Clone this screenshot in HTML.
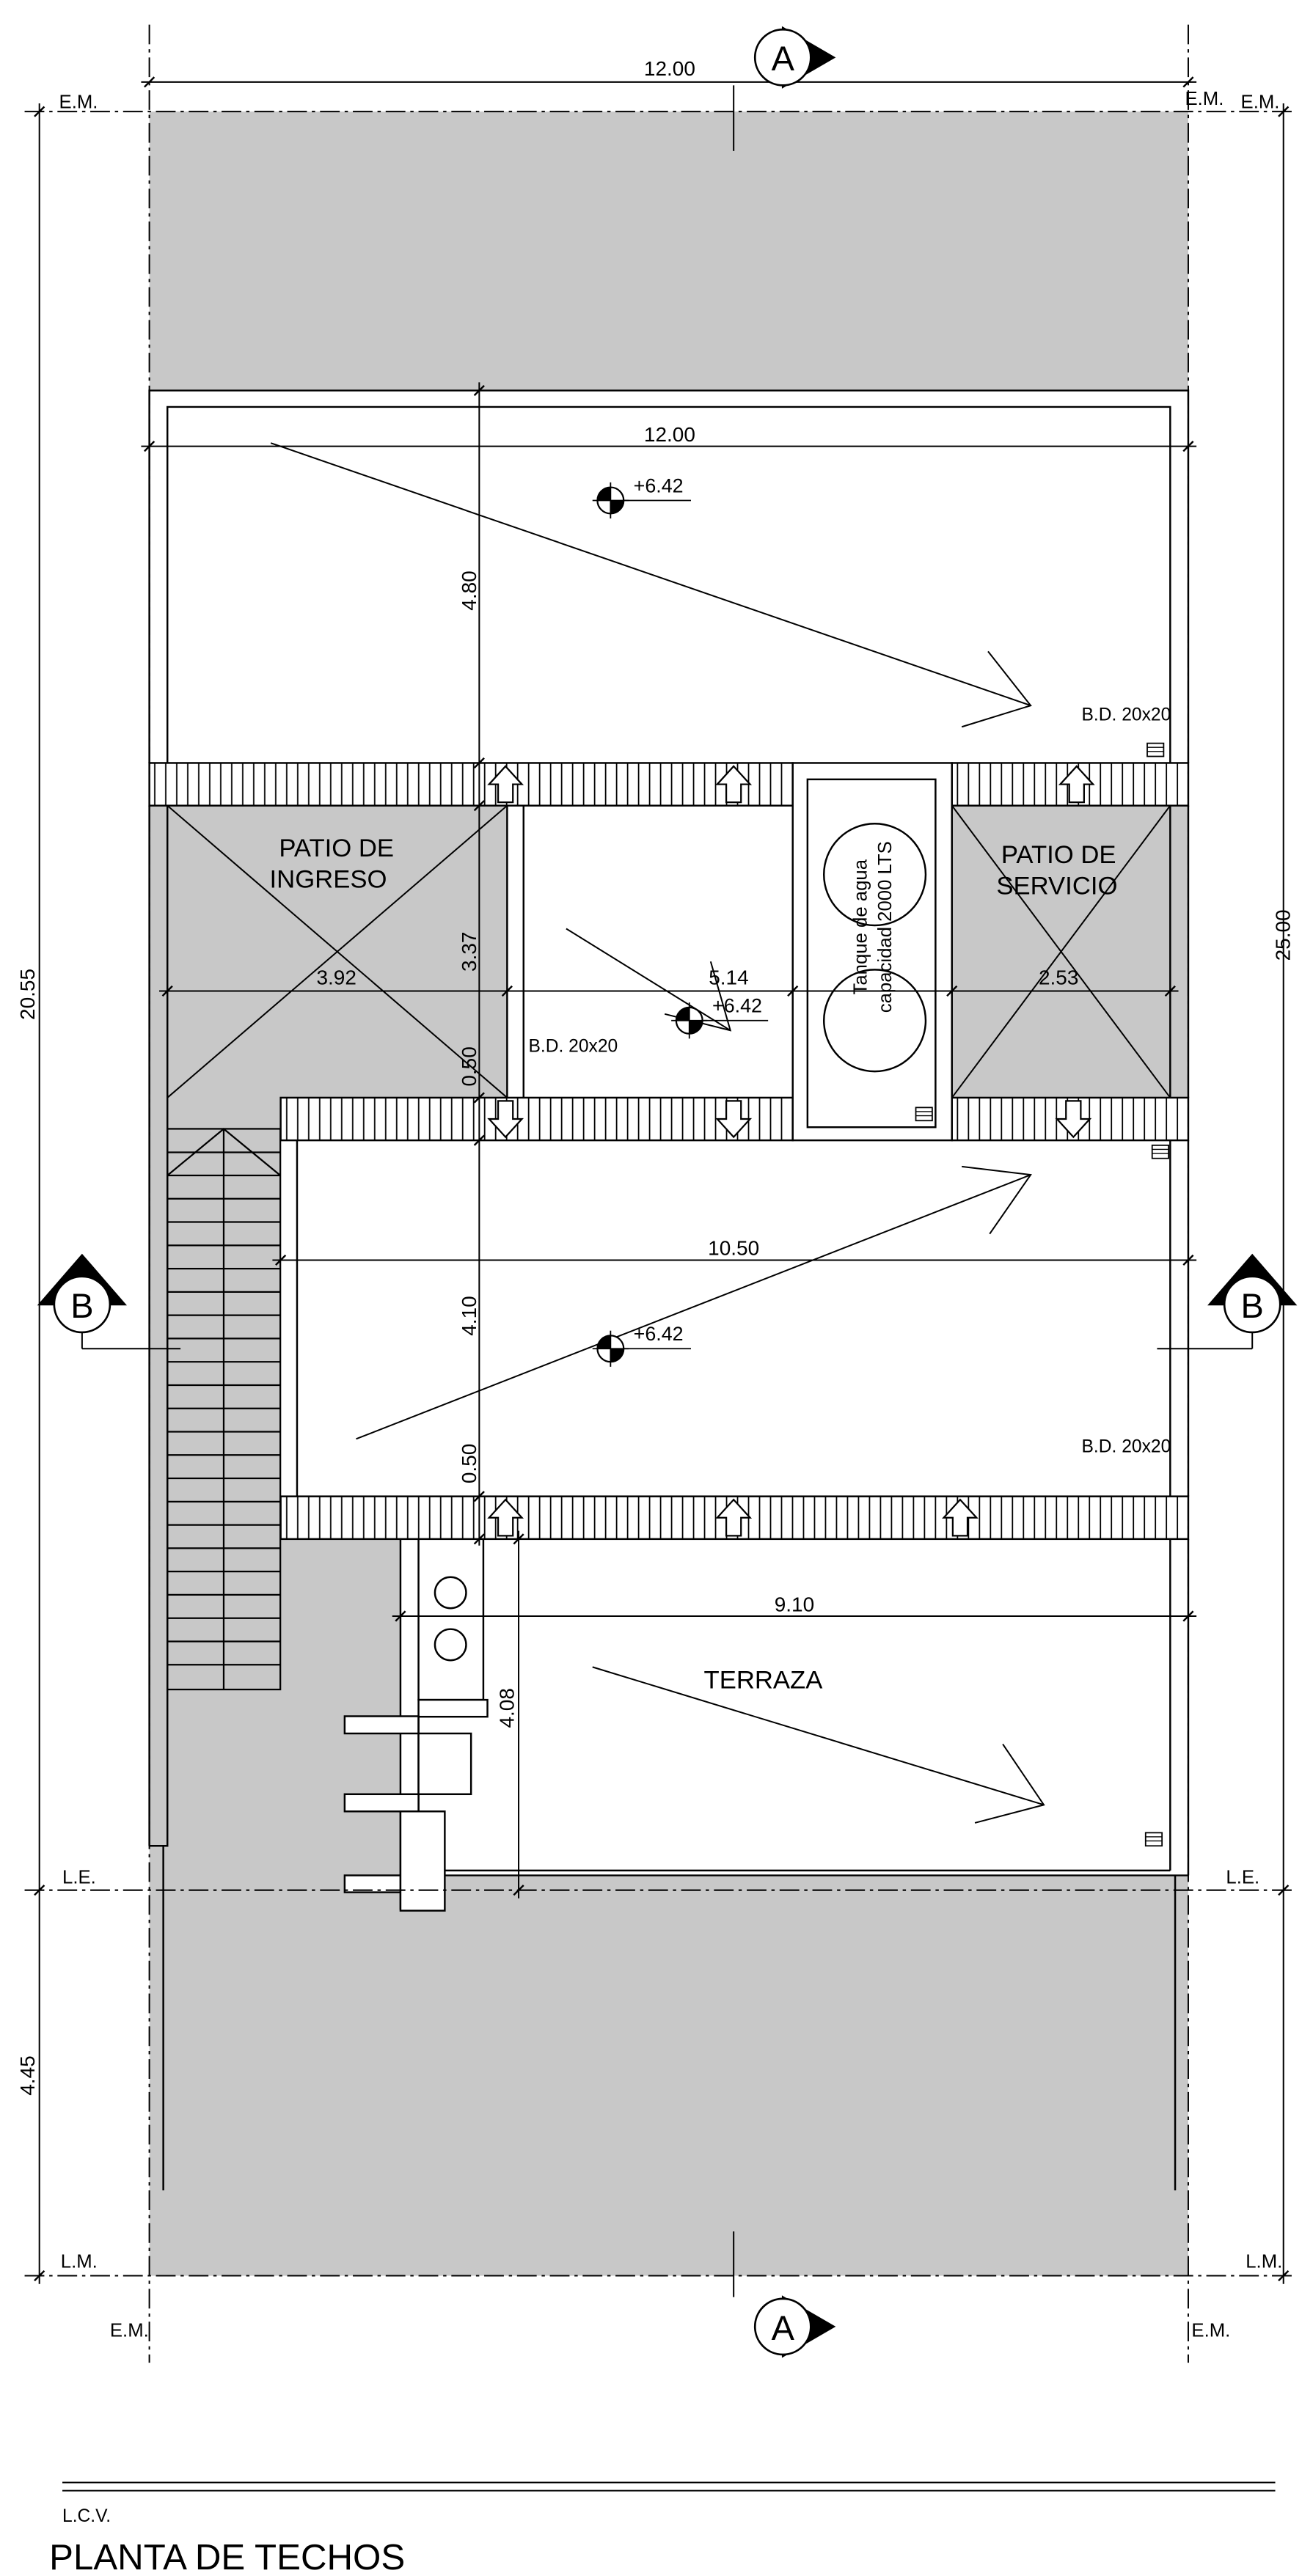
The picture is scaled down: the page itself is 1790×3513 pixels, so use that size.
<!DOCTYPE html>
<html><head><meta charset="utf-8"><style>html,body{margin:0;padding:0;background:#fff}svg{display:block}</style></head><body>
<svg width="1790" height="3513" viewBox="0 0 800 1570" preserveAspectRatio="none" xmlns="http://www.w3.org/2000/svg" font-family="'Liberation Sans Narrow','Liberation Sans',sans-serif">
<defs>
<pattern id="h" patternUnits="userSpaceOnUse" width="6.7" height="20"><rect width="6.7" height="20" fill="#fff"/><line x1="0.5" y1="0" x2="0.5" y2="20" stroke="#000" stroke-width="0.8"/></pattern>
<g id="lv"><circle r="8" fill="#fff" stroke="#000" stroke-width="1"/><path d="M0,0 L-8,0 A8,8 0 0 1 0,-8 Z M0,0 L8,0 A8,8 0 0 1 0,8 Z" fill="#000"/><line x1="-11" y1="0" x2="11" y2="0" stroke="#000" stroke-width="0.8"/><line x1="0" y1="-11" x2="0" y2="11" stroke="#000" stroke-width="0.8"/></g>
<g id="up"><path d="M0,-11 L10,0 L4.5,0 L4.5,11 L-4.5,11 L-4.5,0 L-10,0 Z" fill="#fff" stroke="#000" stroke-width="1"/></g>
<g id="dn"><path d="M0,11 L10,0 L4.5,0 L4.5,-11 L-4.5,-11 L-4.5,0 L-10,0 Z" fill="#fff" stroke="#000" stroke-width="1"/></g>
<g id="gr"><rect x="-5" y="-4" width="10" height="8" fill="#fff" stroke="#000" stroke-width="0.8"/><line x1="-5" y1="-1.5" x2="5" y2="-1.5" stroke="#000" stroke-width="0.6"/><line x1="-5" y1="1" x2="5" y2="1" stroke="#000" stroke-width="0.6"/></g>
</defs>
<rect width="800" height="1570" fill="#fff"/>
<!-- gray plot -->
<rect x="91" y="68" width="633" height="1319" fill="#c8c8c8"/>
<g fill="#fff" stroke="none">
<rect x="91" y="238" width="633" height="227"/>
<rect x="309" y="491" width="174" height="178"/>
<rect x="171" y="695" width="553" height="217"/>
<rect x="244" y="938" width="480" height="205"/>
</g>
<g fill="none" stroke="#000" stroke-width="1.1">
<!-- top roof -->
<path d="M91,465 L91,238 L724,238 L724,465"/>
<path d="M102,465 L102,248 L713,248 L713,465"/>
<!-- left strip -->
<path d="M102,491 L102,1125 L91,1125 M99.5,1125 L99.5,1335"/>
<line x1="91" y1="491" x2="91" y2="1125"/>
<!-- patio ingreso -->
<line x1="309" y1="491" x2="309" y2="669"/>
<line x1="319" y1="491" x2="319" y2="669"/>
<line x1="102" y1="491" x2="309" y2="669" stroke-width="0.9"/>
<line x1="309" y1="491" x2="102" y2="669" stroke-width="0.9"/>
<!-- patio servicio -->
<line x1="713" y1="491" x2="713" y2="669"/>
<line x1="724" y1="491" x2="724" y2="669"/>
<line x1="580" y1="491" x2="713" y2="669" stroke-width="0.9"/>
<line x1="713" y1="491" x2="580" y2="669" stroke-width="0.9"/>
<!-- middle roof -->
<line x1="181" y1="695" x2="181" y2="912"/>
<line x1="713" y1="695" x2="713" y2="912"/>
<line x1="724" y1="695" x2="724" y2="912"/>
<!-- terrace -->
<line x1="713" y1="938" x2="713" y2="1140"/>
<line x1="724" y1="938" x2="724" y2="1143"/>
<line x1="271" y1="1140" x2="713" y2="1140"/>
<line x1="271" y1="1143" x2="724" y2="1143"/>
<line x1="716" y1="1143" x2="716" y2="1335"/>
<!-- left structure -->
<line x1="244" y1="938" x2="244" y2="1164"/>
<path d="M255,938 L255,1036 L294.5,1036 L294.5,938"/>
<rect x="255" y="1036" width="42" height="10.3" fill="#fff"/>
<rect x="210" y="1046" width="45" height="10.5" fill="#fff"/>
<line x1="255" y1="1046" x2="255" y2="1104"/>
<rect x="255" y="1056.5" width="32" height="37" fill="#fff"/>
<rect x="210" y="1093.5" width="45" height="10.5" fill="#fff"/>
<rect x="210" y="1143" width="34" height="10.3" fill="#fff"/>
<rect x="244" y="1104" width="27" height="60.5" fill="#fff"/>
<circle cx="274.5" cy="970.7" r="9.5"/>
<circle cx="274.5" cy="1002.4" r="9.5"/>
</g>
<!-- stair -->
<g stroke="#000" stroke-width="1" fill="none">
<rect x="102" y="688" width="68.8" height="341.7"/>
<line x1="136.3" y1="688" x2="136.3" y2="1029.7"/>
<path d="M102,716.4 L136.3,688 L170.8,716.4"/>
<path d="M102,702.3H170.8 M102,716.4H170.8 M102,730.6H170.8 M102,744.8H170.8 M102,759H170.8 M102,773.2H170.8 M102,787.4H170.8 M102,801.6H170.8 M102,815.8H170.8 M102,830H170.8 M102,844.2H170.8 M102,858.4H170.8 M102,872.6H170.8 M102,886.8H170.8 M102,901H170.8 M102,915.2H170.8 M102,929.4H170.8 M102,943.6H170.8 M102,957.8H170.8 M102,972H170.8 M102,986.2H170.8 M102,1000.4H170.8 M102,1014.6H170.8"/>
</g>
<!-- hatched bands -->
<g fill="url(#h)" stroke="#000" stroke-width="1.1">
<rect x="91" y="465" width="392" height="26"/>
<rect x="580" y="465" width="144" height="26"/>
<rect x="171" y="669" width="312" height="26"/>
<rect x="580" y="669" width="144" height="26"/>
<rect x="171" y="912" width="553" height="26"/>
</g>
<!-- tank -->
<g fill="#fff" stroke="#000" stroke-width="1.1">
<rect x="483" y="465" width="97" height="230"/>
<rect x="492" y="475" width="78" height="212" fill="none"/>
<circle cx="533" cy="533" r="31" fill="none"/>
<circle cx="533" cy="622" r="31" fill="none"/>
</g>
<text transform="translate(528,565) rotate(-90)" font-size="11.5" text-anchor="middle">Tanque de agua</text>
<text transform="translate(543,565) rotate(-90)" font-size="11.5" text-anchor="middle">capacidad 2000 LTS</text>
<!-- arrows in bands -->
<use href="#up" x="308" y="478"/><use href="#up" x="447" y="478"/><use href="#up" x="656" y="478"/>
<use href="#dn" x="308" y="682"/><use href="#dn" x="447" y="682"/><use href="#dn" x="654" y="682"/>
<use href="#up" x="308" y="925"/><use href="#up" x="447" y="925"/><use href="#up" x="585" y="925"/>
<!-- grills -->
<use href="#gr" x="704" y="457"/><use href="#gr" x="563" y="679"/><use href="#gr" x="707" y="702"/><use href="#gr" x="703" y="1121"/>
<!-- drainage slope arrows -->
<g stroke="#000" stroke-width="0.9" fill="none">
<path d="M165,270 L628,430 M602,397 L628,430 L586,443"/>
<path d="M345,566 L445,628 M433,586 L445,628 L405,618"/>
<path d="M217,877 L628,716 M586,711 L628,716 L603,752"/>
<path d="M361,1016 L636,1100 M611,1063 L636,1100 L594,1111"/>
</g>
<!-- levels -->
<use href="#lv" x="372" y="305"/><use href="#lv" x="420" y="622"/><use href="#lv" x="372" y="822"/>
<g stroke="#000" stroke-width="0.8"><line x1="380" y1="305" x2="421" y2="305"/><line x1="428" y1="622" x2="468" y2="622"/><line x1="380" y1="822" x2="421" y2="822"/></g>
<g font-size="12"><text x="386" y="300">+6.42</text><text x="434" y="617">+6.42</text><text x="386" y="817">+6.42</text></g>
<g font-size="11"><text x="659" y="439">B.D.  20x20</text><text x="322" y="641">B.D.  20x20</text><text x="659" y="885">B.D.  20x20</text></g>
<!-- room labels -->
<g font-size="15.5">
<text x="205" y="522" text-anchor="middle">PATIO  DE</text><text x="200" y="541" text-anchor="middle">INGRESO</text>
<text x="645" y="526" text-anchor="middle">PATIO  DE</text><text x="644" y="545" text-anchor="middle">SERVICIO</text>
<text x="465" y="1029" text-anchor="middle">TERRAZA</text>
</g>
<!-- dimension lines -->
<g stroke="#000" stroke-width="0.9" fill="none">
<line x1="91" y1="15" x2="91" y2="1440" stroke-dasharray="12 3 2 3"/>
<line x1="724" y1="15" x2="724" y2="1440" stroke-dasharray="12 3 2 3"/>
<line x1="15" y1="68" x2="790" y2="68" stroke-dasharray="12 3 2 3"/>
<line x1="15" y1="1152" x2="790" y2="1152" stroke-dasharray="12 3 2 3"/>
<line x1="15" y1="1387" x2="790" y2="1387" stroke-dasharray="12 3 2 3"/>
<line x1="86" y1="50" x2="729" y2="50"/>
<line x1="24" y1="63" x2="24" y2="1392"/>
<line x1="782" y1="63" x2="782" y2="1392"/>
<line x1="86" y1="272" x2="729" y2="272"/>
<line x1="292" y1="233" x2="292" y2="942"/>
<line x1="97" y1="604" x2="718" y2="604"/>
<line x1="166" y1="768" x2="729" y2="768"/>
<line x1="239" y1="985" x2="729" y2="985"/>
<line x1="316" y1="933" x2="316" y2="1157"/>
<line x1="447" y1="52" x2="447" y2="92"/>
<line x1="447" y1="1360" x2="447" y2="1400"/>
<line x1="50" y1="812" x2="50" y2="822"/><line x1="50" y1="822" x2="110" y2="822"/>
<line x1="763" y1="812" x2="763" y2="822"/><line x1="705" y1="822" x2="763" y2="822"/>
</g>
<g stroke="#000" stroke-width="1.1">
<path d="M88,53 L94,47 M721,53 L727,47 M21,71 L27,65 M21,1155 L27,1149 M21,1390 L27,1384 M779,71 L785,65 M779,1155 L785,1149 M779,1390 L785,1384 M88,275 L94,269 M721,275 L727,269 M289,241 L295,235 M289,468 L295,462 M289,494 L295,488 M289,672 L295,666 M289,698 L295,692 M289,915 L295,909 M289,941 L295,935 M99,607 L105,601 M306,607 L312,601 M480,607 L486,601 M577,607 L583,601 M710,607 L716,601 M168,771 L174,765 M721,771 L727,765 M241,988 L247,982 M721,988 L727,982 M313,941 L319,935 M313,1155 L319,1149"/>
</g>
<!-- section markers -->
<g stroke="#000" stroke-width="1.2">
<path d="M477,17 L508,35 L477,53 Z" fill="#000"/>
<circle cx="477" cy="35" r="17" fill="#fff"/>
<path d="M477,1400 L508,1418 L477,1436 Z" fill="#000"/>
<circle cx="477" cy="1418" r="17" fill="#fff"/>
<path d="M24,795 L50,765 L76,795 Z" fill="#000"/>
<circle cx="50" cy="795" r="17" fill="#fff"/>
<path d="M737,795 L763,765 L789,795 Z" fill="#000"/>
<circle cx="763" cy="795" r="17" fill="#fff"/>
</g>
<g font-size="21" text-anchor="middle" font-family="'Liberation Sans',sans-serif"><text x="477" y="43">A</text><text x="477" y="1426">A</text><text x="50" y="803">B</text><text x="763" y="803">B</text></g>
<!-- dim texts -->
<g font-size="12.5" text-anchor="middle">
<text x="408" y="46">12.00</text><text x="408" y="269">12.00</text>
<text x="205" y="600">3.92</text><text x="444" y="600">5.14</text><text x="645" y="600">2.53</text>
<text x="447" y="765">10.50</text><text x="484" y="982">9.10</text>
<text transform="translate(290,360) rotate(-90)">4.80</text>
<text transform="translate(290,580) rotate(-90)">3.37</text>
<text transform="translate(290,650) rotate(-90)">0.50</text>
<text transform="translate(290,802) rotate(-90)">4.10</text>
<text transform="translate(290,892) rotate(-90)">0.50</text>
<text transform="translate(313,1041) rotate(-90)">4.08</text>
<text transform="translate(21,606) rotate(-90)">20.55</text>
<text transform="translate(21,1265) rotate(-90)">4.45</text>
<text transform="translate(786,570) rotate(-90)">25.00</text>
</g>
<g font-size="11.5">
<text x="36" y="66">E.M.</text><text x="722" y="64">E.M.</text><text x="756" y="66">E.M.</text>
<text x="38" y="1148">L.E.</text><text x="747" y="1148">L.E.</text>
<text x="37" y="1382">L.M.</text><text x="759" y="1382">L.M.</text>
<text x="67" y="1424">E.M.</text><text x="726" y="1424">E.M.</text>
</g>
<!-- title block -->
<g stroke="#000" stroke-width="0.9"><line x1="38" y1="1513" x2="777" y2="1513"/><line x1="38" y1="1518" x2="777" y2="1518"/></g>
<text x="38" y="1537" font-size="11">L.C.V.</text>
<text x="30" y="1566" font-size="22" font-family="'Liberation Sans',sans-serif">PLANTA DE TECHOS</text>
</svg>
</body></html>
